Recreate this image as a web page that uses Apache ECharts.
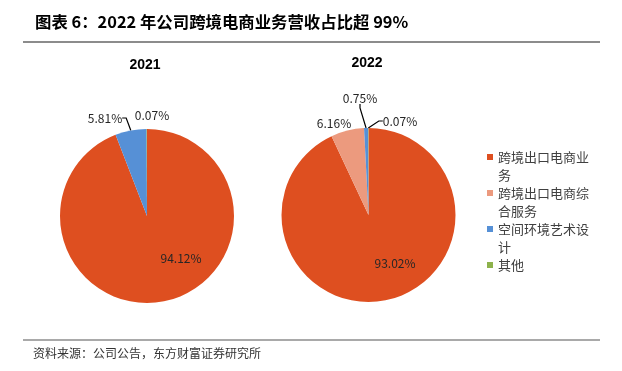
<!DOCTYPE html>
<html>
<head>
<meta charset="utf-8">
<script src="https://cdn.jsdelivr.net/npm/echarts@6/dist/echarts.min.js"></script>
<style>
html,body{margin:0;padding:0;background:#fff;}
#c{width:622px;height:371px;}
</style>
</head>
<body>
<div id="c"></div>
<script>
// ---- data ----
const categories = ['跨境出口电商业务', '跨境出口电商综合服务', '空间环境艺术设计', '其他'];
const years = ['2021', '2022'];
const values2021 = [94.12, 0, 5.81, 0.07];
const values2022 = [93.02, 6.16, 0.75, 0.07];
const chartTitle = '图表 6：2022 年公司跨境电商业务营收占比超 99%';
const sourceText = '资料来源：公司公告，东方财富证券研究所';

// ---- style ----
const colors = ['#DE4F20', '#EC9A7E', '#5690D6', '#8DB24B'];
const FONT = '"Noto Sans CJK SC", "Noto Sans", sans-serif';
const pies = [
  { center: [147, 216], radius: 87, values: values2021,
    labelOffsets: [[34, 42], null, [-42, -98], [5, -101]],
    lineShow: [false, false, true, false] },
  { center: [368.5, 215], radius: 87, values: values2022,
    labelOffsets: [[26.5, 48], [-34.5, -92], [-8.5, -117], [31.5, -94]],
    lineShow: [false, false, true, true] }
];

const chart = echarts.init(document.getElementById('c'), null, { renderer: 'canvas' });

const series = pies.map((p, si) => ({
  type: 'pie',
  center: p.center,
  radius: p.radius,
  startAngle: 90,
  clockwise: true,
  animation: false,
  silent: true,
  data: categories.map((name, i) => ({
    name: name,
    value: p.values[i],
    itemStyle: { color: colors[i] },
    label: { show: p.values[i] > 0, position: i === 0 ? 'inside' : 'outside' },
    labelLine: { show: p.lineShow[i] }
  })),
  label: {
    formatter: (d) => d.value.toFixed(2) + '%',
    fontFamily: FONT,
    fontSize: 12,
    color: '#262626'
  },
  labelLine: { length: 5, length2: 4, lineStyle: { color: '#000', width: 1.2 }, smooth: false },
  labelLayout: (params) => {
    const off = p.labelOffsets[params.dataIndex];
    if (!off) return {};
    return {
      x: p.center[0] + off[0],
      y: p.center[1] + off[1],
      align: 'center',
      verticalAlign: 'middle'
    };
  }
}));

const legendNames = categories.slice();

chart.setOption({
  backgroundColor: '#fff',
  animation: false,
  legend: {
    orient: 'vertical',
    left: 487,
    top: 130,
    padding: 0,
    itemGap: -18,
    itemWidth: 6,
    itemHeight: 6,
    icon: 'rect',
    selectedMode: false,
    data: legendNames,
    formatter: (name) => '\n' + name + (name === '其他' ? '\n\u3000' : ''),
    textStyle: {
      fontFamily: FONT,
      fontSize: 13,
      color: '#404040',
      lineHeight: 18,
      width: 92,
      overflow: 'break'
    }
  },
  graphic: [
    { type: 'text', x: 35, y: 22, style: { text: chartTitle, font: 'bold 16.4px ' + FONT, fill: '#000', verticalAlign: 'middle' } },
    { type: 'line', shape: { x1: 23, y1: 42, x2: 600, y2: 42 }, style: { stroke: '#8c8c8c', lineWidth: 2 } },
    { type: 'text', x: 145, y: 65, style: { text: years[0], font: 'bold 14px Arial, "Liberation Sans", sans-serif', fill: '#000', align: 'center', verticalAlign: 'middle' } },
    { type: 'text', x: 367, y: 63, style: { text: years[1], font: 'bold 14px Arial, "Liberation Sans", sans-serif', fill: '#000', align: 'center', verticalAlign: 'middle' } },
    { type: 'line', shape: { x1: 23, y1: 340, x2: 600, y2: 340 }, style: { stroke: '#8c8c8c', lineWidth: 1.5 } },
    { type: 'text', x: 33, y: 353, style: { text: sourceText, font: '12px ' + FONT, fill: '#333', verticalAlign: 'middle' } }
  ],
  series: series
});
</script>
</body>
</html>
